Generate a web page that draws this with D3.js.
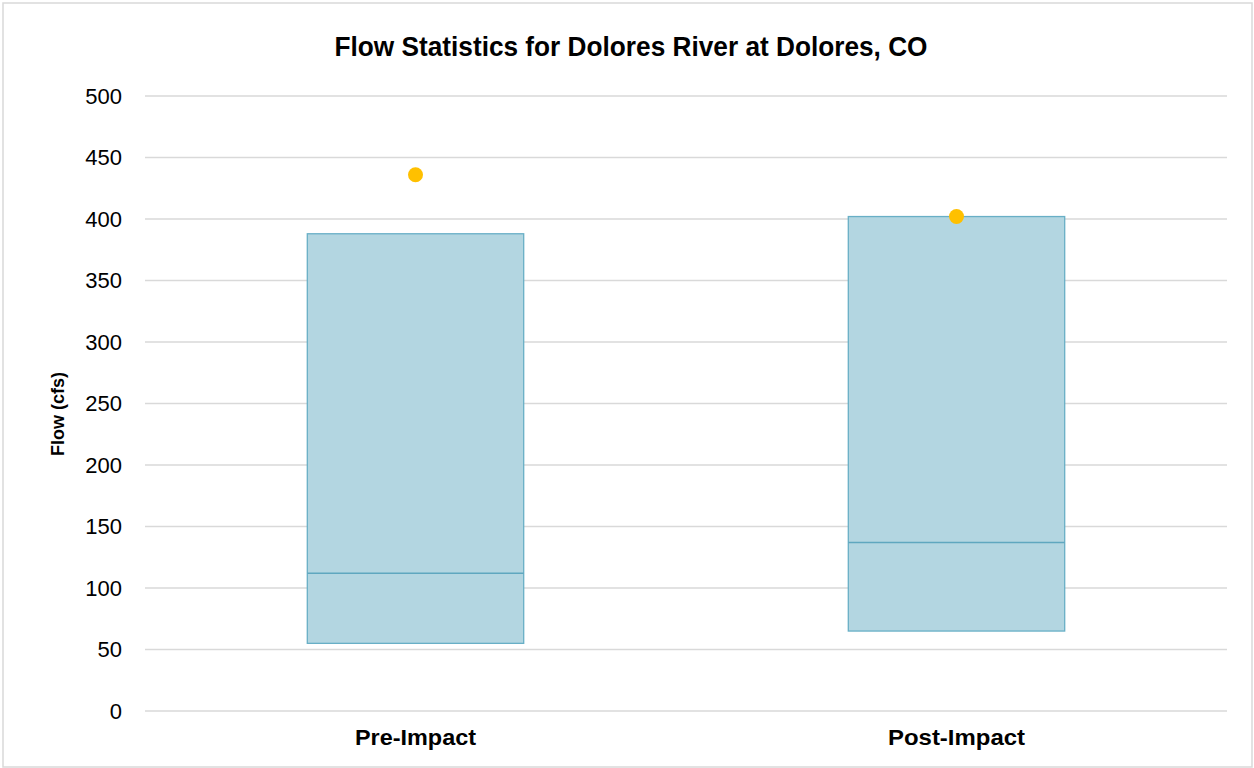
<!DOCTYPE html>
<html><head><meta charset="utf-8">
<script src="https://cdn.jsdelivr.net/npm/d3@7"></script>
<style>body{margin:0;background:#fff;}svg{display:block;}</style>
</head><body>
<script>
const categories = ["Pre-Impact", "Post-Impact"];
const p25 = [55, 65];
const median = [112, 137];
const p75 = [388, 402];
const mean = [436, 402];
const yTicks = [0, 50, 100, 150, 200, 250, 300, 350, 400, 450, 500];

const W = 1254, H = 768;
const svg = d3.select("body").append("svg").attr("width", W).attr("height", H);
svg.append("rect").attr("x", 3).attr("y", 3).attr("width", W - 5).attr("height", H - 4)
  .attr("fill", "#fff").attr("stroke", "#d9d9d9").attr("stroke-width", 1.5);

const x = d3.scaleBand().domain(categories).range([145, 1227]).paddingInner(0).paddingOuter(0);
const y = d3.scaleLinear().domain([0, 500]).range([711, 96]);

svg.append("g").selectAll("line").data(yTicks).join("line")
  .attr("x1", 145).attr("x2", 1227)
  .attr("y1", d => y(d)).attr("y2", d => y(d))
  .attr("stroke", "#d9d9d9").attr("stroke-width", 1.3);

const yAxis = d3.axisLeft(y).tickValues(yTicks).tickSize(0).tickPadding(23);
const gy = svg.append("g").attr("transform", "translate(145,0)").call(yAxis);
gy.select(".domain").remove();
gy.selectAll("text").attr("font-family", "Liberation Sans, Arial, sans-serif")
  .attr("font-size", 22).attr("fill", "#000");

const xAxis = d3.axisBottom(x).tickSize(0).tickPadding(18);
const gx = svg.append("g").attr("transform", "translate(0,711)").call(xAxis);
gx.select(".domain").remove();
const labelLen = {"Pre-Impact": 121, "Post-Impact": 137};
gx.selectAll("text").attr("font-family", "Liberation Sans, Arial, sans-serif")
  .attr("font-size", 22).attr("font-weight", "bold").attr("fill", "#000")
  .attr("textLength", d => labelLen[d]).attr("lengthAdjust", "spacingAndGlyphs");

const bw = x.bandwidth() * 0.4;
const g = svg.append("g");
categories.forEach((c, i) => {
  const cx = x(c) + x.bandwidth() / 2;
  g.append("rect").attr("x", cx - bw / 2).attr("width", bw)
    .attr("y", y(p75[i])).attr("height", y(p25[i]) - y(p75[i]))
    .attr("fill", "#b3d6e1").attr("stroke", "#68afc6").attr("stroke-width", 1.3);
  g.append("line").attr("x1", cx - bw / 2).attr("x2", cx + bw / 2)
    .attr("y1", y(median[i])).attr("y2", y(median[i]))
    .attr("stroke", "#5fa7bf").attr("stroke-width", 1.5);
  g.append("circle").attr("cx", cx).attr("cy", y(mean[i])).attr("r", 7.5)
    .attr("fill", "#ffc000");
});

svg.append("text").attr("x", 631).attr("y", 56).attr("text-anchor", "middle")
  .attr("font-family", "Liberation Sans, Arial, sans-serif")
  .attr("font-size", 27).attr("font-weight", "bold").attr("fill", "#000")
  .attr("textLength", 593).attr("lengthAdjust", "spacingAndGlyphs")
  .text("Flow Statistics for Dolores River at Dolores, CO");

svg.append("text").attr("transform", "translate(64,414) rotate(-90)")
  .attr("text-anchor", "middle")
  .attr("font-family", "Liberation Sans, Arial, sans-serif")
  .attr("font-size", 18).attr("font-weight", "bold").attr("fill", "#000")
  .text("Flow (cfs)");
</script>
</body></html>
